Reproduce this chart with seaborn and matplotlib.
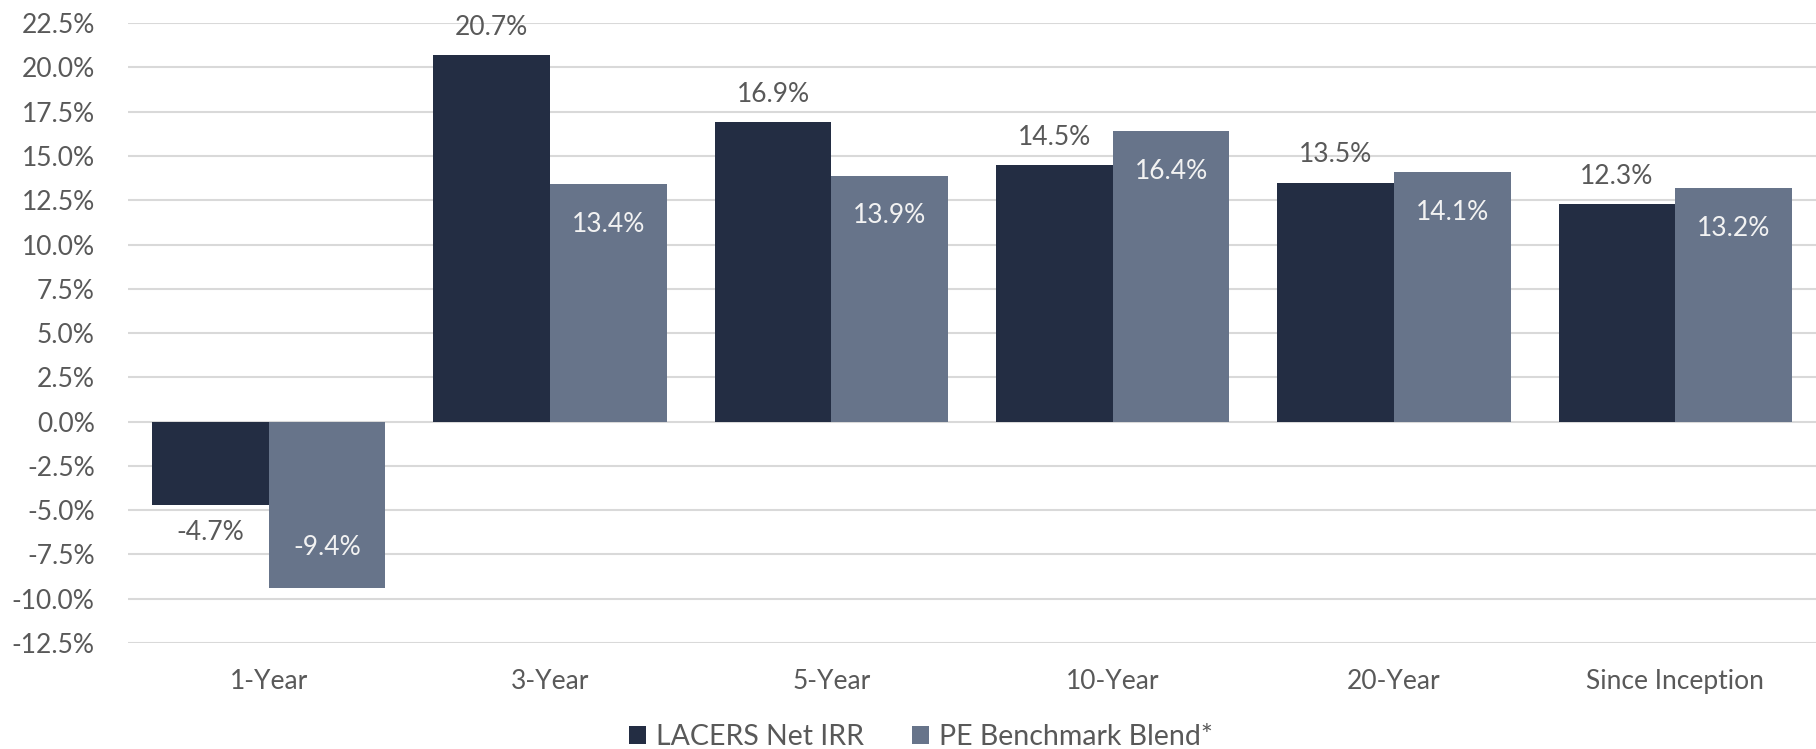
import matplotlib
matplotlib.use("Agg")
import matplotlib.pyplot as plt
import seaborn as sns
import pandas as pd
import numpy as np
from matplotlib.patches import Patch

categories = ["1-Year", "3-Year", "5-Year", "10-Year", "20-Year", "Since Inception"]
lacers = [-4.7, 20.7, 16.9, 14.5, 13.5, 12.3]
benchmark = [-9.4, 13.4, 13.9, 16.4, 14.1, 13.2]
series_names = ["LACERS Net IRR", "PE Benchmark Blend*"]
colors = ["#232d43", "#67748a"]
yticks = np.arange(-12.5, 22.51, 2.5)

df = pd.DataFrame({
    "Period": categories * 2,
    "Series": [series_names[0]] * len(categories) + [series_names[1]] * len(categories),
    "Value": lacers + benchmark,
})

sns.set_theme(style="white")
plt.rcParams["font.family"] = ["Lato", "DejaVu Sans"]

fs = 19
fig = plt.figure(figsize=(18.16, 7.49), dpi=100)
ax = fig.add_axes([0.0705, 0.1415, 0.9295, 0.8275])

sns.barplot(data=df, x="Period", y="Value", hue="Series", palette=colors,
            width=0.83, gap=0, ax=ax, saturation=1, legend=False, errorbar=None,
            linewidth=0)

ax.set_ylim(-12.5, 22.5)
ax.set_xlim(-0.5, 5.5)
ax.set_yticks(yticks)
ax.set_yticklabels([f"{v:.1f}%" for v in yticks])
ax.yaxis.grid(True, color="#d9d9d9", linewidth=1.5)
ax.set_axisbelow(True)
for s in ax.spines.values():
    s.set_visible(False)
ax.set_xlabel("")
ax.set_ylabel("")
ax.tick_params(axis="y", labelsize=fs, labelcolor="#595959", length=0, pad=24)
ax.tick_params(axis="x", labelsize=fs, labelcolor="#595959", length=0, pad=19)

c0, c1 = ax.containers[0], ax.containers[1]
ax.bar_label(c0, labels=[f"{v:.1f}%" for v in lacers], padding=11,
             fontsize=fs, color="#595959")
ax.bar_label(c1, labels=[f"{v:.1f}%" for v in benchmark], label_type="edge",
             padding=-38, fontsize=fs, color="#f2f2f2")

handles = [Patch(facecolor=c, edgecolor="none") for c in colors]
fig.legend(handles, series_names, loc="center", bbox_to_anchor=(0.507, 0.016),
           ncol=2, frameon=False, fontsize=20.5, handlelength=0.6, handleheight=0.6,
           handletextpad=0.35, columnspacing=1.7, labelcolor="#595959")

fig.savefig("out.png", dpi=100, facecolor="white")
